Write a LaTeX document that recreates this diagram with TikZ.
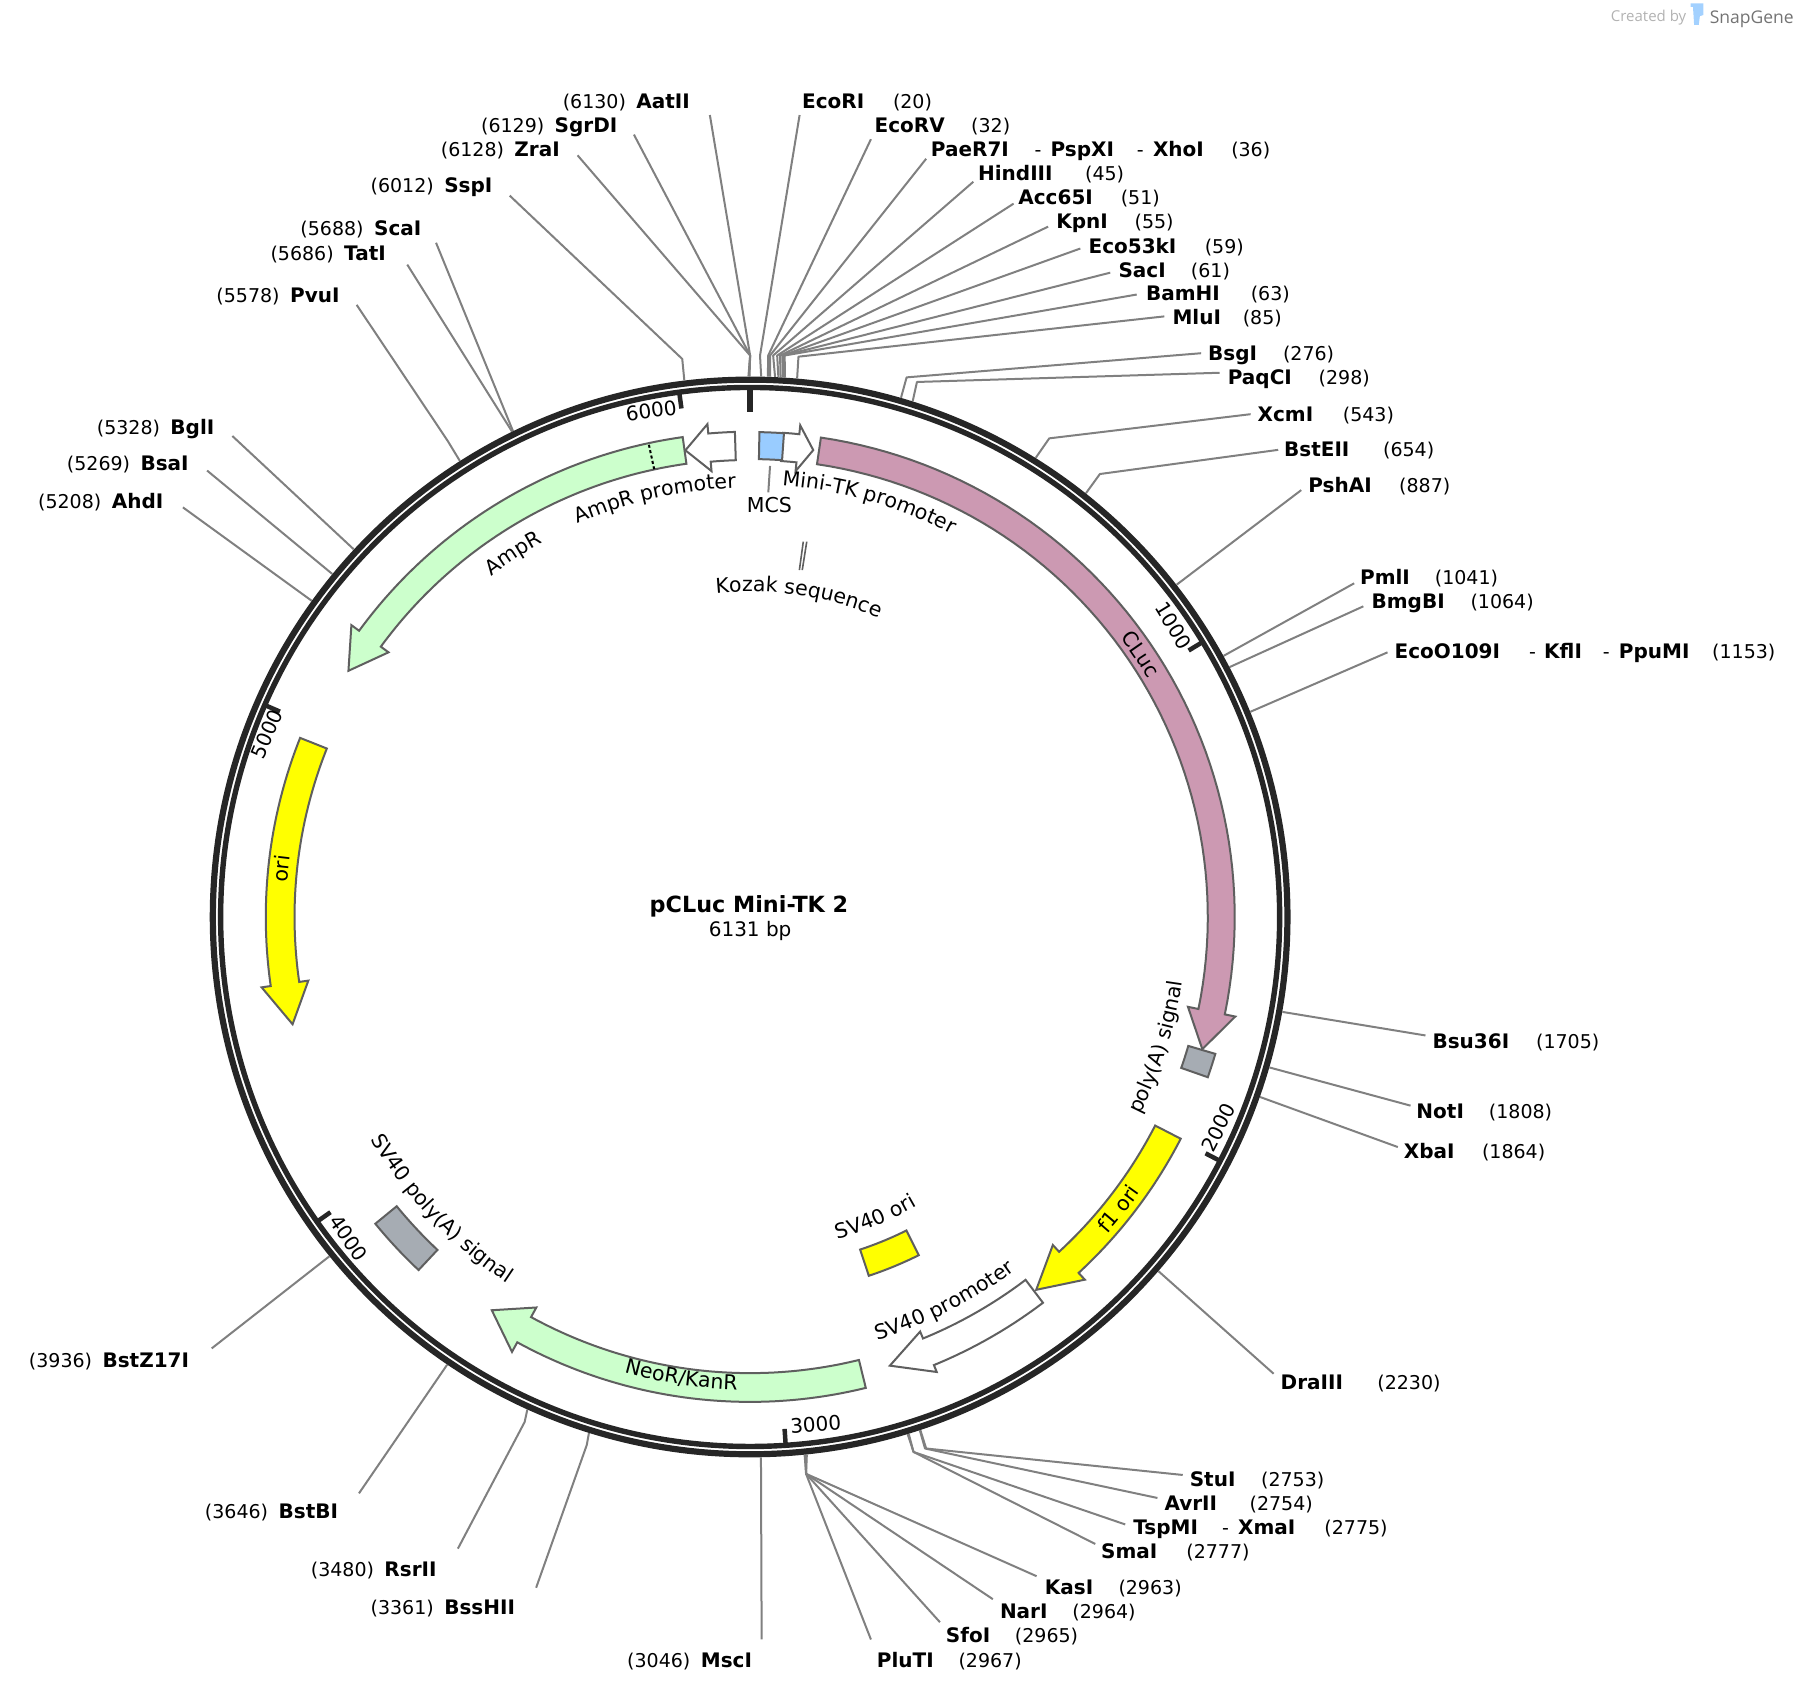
\documentclass[tikz,border=0pt]{standalone}
\usepackage{fontspec}
\setmainfont{DejaVu Sans}
\newfontfamily\logofont{Open Sans}
\usetikzlibrary{decorations.text}
\definecolor{ringc}{HTML}{262626}
\definecolor{linec}{HTML}{808080}
\definecolor{featline}{HTML}{5F5F5F}
\definecolor{cluc}{HTML}{CC99B2}
\definecolor{green}{HTML}{CCFFCC}
\definecolor{yel}{HTML}{FFFF00}
\definecolor{mcsblue}{HTML}{99CCFF}
\definecolor{polya}{HTML}{A6ACB3}
\newcommand{\labfont}{\fontsize{19}{23}\selectfont}
\newcommand{\featfont}{\fontsize{20.5}{24}\selectfont}
\newcommand{\nmfont}{\fontsize{20}{24}\selectfont\bfseries}
\tikzset{
  x=1.1505pt,y=-1.1505pt,
  enzb/.style={anchor=base west,inner sep=0pt,font=\nmfont,text=black},
  enzr/.style={anchor=base west,inner sep=0pt,font=\labfont,text=black},
  cutline/.style={draw=linec,line width=2pt,line join=round},
  feat/.style={draw=featline,line width=2pt,line join=miter},
  tickmark/.style={draw=ringc,line width=4.5pt},
  ticklab/.style={inner sep=0pt,font=\fontsize{20}{24}\selectfont,text=black},
  ringline/.style={draw=ringc},
}
% bold enzyme name: id, x, y, text
\newcommand{\bn}[4]{\node[enzb] (#1) at (#2,#3+6) {#4};}
% regular text: id, x, y, text
\newcommand{\rn}[4]{\node[enzr] (#1) at (#2,#3+6) {#4};}
% straight cut line: id, bp, label end
\newcommand{\cutA}[3]{%
  \begin{scope}[shift={(652,797)}]\coordinate (r-#1) at ({#2/6131*360-90}:470);\end{scope}
  \coordinate (l-#1) at (#3);
  \draw[cutline] (r-#1) -- (l-#1);}
% cut line with elbow: id, bp, elbow, label end
\newcommand{\cutB}[4]{%
  \begin{scope}[shift={(652,797)}]\coordinate (r-#1) at ({#2/6131*360-90}:470);\end{scope}
  \coordinate (e-#1) at (#3);
  \coordinate (l-#1) at (#4);
  \draw[cutline] (r-#1) -- (e-#1) -- (l-#1);}
% arrow feature: theta0, thetaShaftEnd, thetaTip, r, halfwidth, headhalf, fill
\newcommand{\featarrow}[7]{%
  \draw[feat,fill=#7] plot[domain=#1:#2,samples=60] ({\x-90}:{#4+#5})
    -- ({#2-90}:{#4+#6}) -- ({#3-90}:#4) -- ({#2-90}:{#4-#6})
    -- plot[domain=#2:#1,samples=60] ({\x-90}:{#4-#5}) -- cycle;}
% block feature: theta0, theta1, r0, r1, fill
\newcommand{\featrect}[5]{%
  \draw[feat,fill=#5] plot[domain=#1:#2,samples=12] ({\x-90}:#4)
    -- plot[domain=#2:#1,samples=12] ({\x-90}:#3) -- cycle;}
% curved label: text, theta start, theta end, radius
\newcommand{\arctext}[4]{%
  \path[decorate,decoration={text along path,text={|\featfont|#1},text align=center}]
    plot[domain=#2:#3,samples=70] ({\x-90}:#4);}
\newcommand{\ticklabel}[4]{\node[ticklab,rotate=#4] (tick#1) at (#2,#3) {#1};}
\begin{document}
\begin{tikzpicture}
\path[use as bounding box] (0,0) rectangle (1568.01,1470.66);

% logo
\node[anchor=base west,inner sep=0pt,text=black!30,font=\logofont\fontsize{15}{18}\selectfont] (created) at (1400,19) {Created by};
\fill[fill=mcsblue!90!white] (1469.5,3) -- (1480.6,3) -- (1480.6,13) -- (1477.5,14) -- (1476.5,21.7) -- (1472.5,21.7) -- (1471.5,6) -- (1469.5,6) -- cycle;
\node[anchor=base west,inner sep=0pt,text=black!55,font=\logofont\fontsize{17.5}{22}\selectfont] (snapgene) at (1486,20) {SnapGene};

% cut site connectors
\cutB{AatII}{6130}{652,309}{617,100}
\cutB{SgrDI}{6129}{652,309}{551,117}
\cutB{ZraI}{6128}{652,309}{502,135}
\cutB{SspI}{6012}{593,312}{443,170}
\cutA{ScaI}{5688}{379,211}
\cutA{TatI}{5686}{354,230}
\cutB{PvuI}{5578}{389,383}{310,265}
\cutA{BglI}{5328}{202,379}
\cutA{BsaI}{5269}{180,409}
\cutA{AhdI}{5208}{159,441}
\cutA{BstZ}{3936}{184,1172}
\cutA{BstBI}{3646}{312,1298}
\cutB{RsrII}{3480}{456,1236}{398,1346}
\cutB{BssHII}{3361}{510,1256}{466,1380}
\cutA{MscI}{3046}{662,1425}
\cutB{EcoRI}{20}{660.6,309}{695,100}
\cutB{EcoRV}{32}{667.7,309}{757,121}
\cutB{PaeR}{36}{669.3,309}{805,138}
\cutB{HindIII}{45}{672,309}{846,158}
\cutB{Acc}{51}{675.5,309}{881,177}
\cutB{KpnI}{55}{678,309}{911,197}
\cutB{Eco}{59}{680,309}{939,216}
\cutB{SacI}{61}{681,309}{965,237}
\cutB{BamHI}{63}{682,309}{988,256}
\cutB{MluI}{85}{694,310}{1012,275}
\cutB{BsgI}{276}{788,328}{1044,307}
\cutB{PaqCI}{298}{797,332}{1060,324}
\cutB{XcmI}{543}{912,381}{1087,360}
\cutB{BstEII}{654}{956,412}{1111,391}
\cutA{PshAI}{887}{1131,426}
\cutA{PmlI}{1041}{1177,507}
\cutA{BmgBI}{1064}{1185,527}
\cutA{EcoO}{1153}{1206,567}
\cutA{Bsu}{1705}{1239,900}
\cutA{NotI}{1808}{1226,961}
\cutA{XbaI}{1864}{1215,997}
\cutA{DraIII}{2230}{1107,1194}
\cutB{StuI}{2753}{805,1259}{1028,1282}
\cutB{AvrII}{2754}{804,1259}{1006,1302}
\cutB{TspMI}{2775}{794,1262}{978,1325}
\cutB{SmaI}{2777}{794,1262}{952,1342}
\cutB{KasI}{2963}{700.6,1281}{901,1370}
\cutB{NarI}{2964}{700.6,1281}{863,1390}
\cutB{SfoI}{2965}{700.6,1281}{817,1410}
\cutB{PluTI}{2967}{700.6,1281}{757,1425}

\begin{scope}[shift={(652,797)}]
% backbone
\draw[ringline,line width=6.2pt] (0,0) circle[radius=537.3pt];
\draw[ringline,line width=5.4pt] (0,0) circle[radius=529.5pt];
% ticks
\draw[draw=ringc,line width=6pt] (-90:459) -- (-90:439);
\foreach \t in {1000,2000,3000,4000,5000,6000}
  \draw[tickmark] ({\t/6131*360-90}:459) -- ({\t/6131*360-90}:446);

% features
\featarrow{8.4}{101.6}{106.3}{409.5}{11.7}{21}{cluc}
\featarrow{352}{306.2}{301.5}{409.5}{11.7}{20}{green}
\draw[line width=2pt,dash pattern=on 3pt off 2.5pt,draw=black] (347.9-90:398) -- (347.9-90:421);
\featarrow{358.2}{355.05}{352.1}{409.5}{12.3}{20.5}{white}
\featarrow{3.9}{5.82}{7.7}{409.5}{12.3}{20}{white}
\featrect{1.1}{4.0}{398}{421.5}{mcsblue}
\featarrow{291.7}{261.8}{256.8}{408.5}{12.5}{20.5}{yel}
\featrect{106.4}{109.3}{397}{421.5}{polya}
\featarrow{117.25}{137.3}{142.5}{408.5}{12.5}{20.5}{yel}
\featarrow{142.8}{157.7}{162.7}{408.5}{12.5}{19}{white}
\featrect{153.5}{161.7}{304.5}{328.5}{yel}
\featarrow{166.2}{208.7}{213.3}{409}{12.5}{22}{green}
\featrect{223.2}{230.7}{397}{421}{polya}

% feature labels
\arctext{AmpR promoter}{317.2}{377.2}{373}
\arctext{Mini-TK promoter}{-24}{56}{376}
\arctext{Kozak sequence}{-41.35}{58.65}{283}
\arctext{CLuc}{26.1}{86.1}{403}
\arctext{AmpR}{296.9}{356.9}{372}
\arctext{ori}{245.9}{305.9}{403}
\arctext{poly(A) signal}{147.7}{67.7}{380}
\arctext{f1 ori}{158.4}{98.4}{415}
\arctext{SV40 promoter}{193.2}{113.2}{384}
\arctext{SV40 ori}{197.4}{117.4}{290}
\arctext{NeoR/KanR}{218.5}{158.5}{411}
\arctext{SV40 poly(A) signal}{266.6}{186.6}{382}
\end{scope}

% MCS and Kozak pointers
\node[inner sep=0pt,font=\featfont] (mcs) at (668.7,439) {MCS};
\coordinate (mcs-a) at (669.3,405);
\coordinate (mcs-b) at (667.8,428);
\draw[draw=linec,line width=2pt] (mcs-a) -- (mcs-b);
\coordinate (koz-a) at (698.2,470.8);
\coordinate (koz-b) at (694.8,495.5);
\coordinate (koz-c) at (701.2,470.8);
\coordinate (koz-d) at (697.3,495.5);
\draw[draw=featline,line width=1.6pt] (koz-a) -- (koz-b);
\draw[draw=featline,line width=1.6pt] (koz-c) -- (koz-d);

% tick labels
\ticklabel{1000}{1020}{544}{-58.7}
\ticklabel{2000}{1059}{980}{62.6}
\ticklabel{3000}{709}{1238}{3.8}
\ticklabel{4000}{303}{1076}{-55}
\ticklabel{5000}{232}{638}{66.4}
\ticklabel{6000}{566}{357}{7.7}

% centre
\node[inner sep=0pt,font=\fontsize{22.3}{26}\selectfont\bfseries] (title) at (651,788) {pCLuc Mini-TK 2};
\node[inner sep=0pt,font=\fontsize{20}{24}\selectfont] (size) at (652,809) {6131 bp};

% enzyme labels, top right
\bn{n1}{697}{88}{EcoRI}\rn{p1}{776}{88}{(20)}
\bn{n2}{760}{109}{EcoRV}\rn{p2}{844}{109}{(32)}
\bn{n3}{809}{130}{PaeR7I}\rn{d3}{899}{130}{-}\bn{n3b}{913}{130}{PspXI}\rn{d3b}{988}{130}{-}\bn{n3c}{1002}{130}{XhoI}\rn{p3}{1070}{130}{(36)}
\bn{n4}{850}{151}{HindIII}\rn{p4}{943}{151}{(45)}
\bn{n5}{885}{172}{Acc65I}\rn{p5}{974}{172}{(51)}
\bn{n6}{918}{193}{KpnI}\rn{p6}{986}{193}{(55)}
\bn{n7}{946}{214}{Eco53kI}\rn{p7}{1047}{214}{(59)}
\bn{n8}{972}{235}{SacI}\rn{p8}{1035}{235}{(61)}
\bn{n9}{996}{255}{BamHI}\rn{p9}{1087}{255}{(63)}
\bn{n10}{1019}{276}{MluI}\rn{p10}{1080}{276}{(85)}
\bn{n11}{1050}{307}{BsgI}\rn{p11}{1115}{307}{(276)}
\bn{n12}{1067}{328}{PaqCI}\rn{p12}{1146}{328}{(298)}
\bn{n13}{1093}{360}{XcmI}\rn{p13}{1167}{360}{(543)}
\bn{n14}{1116}{391}{BstEII}\rn{p14}{1202}{391}{(654)}
\bn{n15}{1137}{422}{PshAI}\rn{p15}{1216}{422}{(887)}
\bn{n16}{1182}{502}{PmlI}\rn{p16}{1247}{502}{(1041)}
\bn{n17}{1192}{523}{BmgBI}\rn{p17}{1278}{523}{(1064)}
\bn{n18}{1212}{566}{EcoO109I}\rn{d18}{1329}{566}{-}\bn{n18b}{1342}{566}{KflI}\rn{d18b}{1393}{566}{-}\bn{n18c}{1407}{566}{PpuMI}\rn{p18}{1488}{566}{(1153)}
% right and bottom right
\bn{n19}{1245}{905}{Bsu36I}\rn{p19}{1335}{905}{(1705)}
\bn{n20}{1231}{966}{NotI}\rn{p20}{1294}{966}{(1808)}
\bn{n21}{1220}{1001}{XbaI}\rn{p21}{1288}{1001}{(1864)}
\bn{n22}{1113}{1202}{DraIII}\rn{p22}{1197}{1202}{(2230)}
\bn{n23}{1034}{1286}{StuI}\rn{p23}{1096}{1286}{(2753)}
\bn{n24}{1012}{1307}{AvrII}\rn{p24}{1086}{1307}{(2754)}
\bn{n25}{985}{1328}{TspMI}\rn{d25}{1062}{1328}{-}\bn{n25b}{1076}{1328}{XmaI}\rn{p25}{1151}{1328}{(2775)}
\bn{n26}{957}{1349}{SmaI}\rn{p26}{1031}{1349}{(2777)}
\bn{n27}{908}{1380}{KasI}\rn{p27}{972}{1380}{(2963)}
\bn{n28}{869}{1401}{NarI}\rn{p28}{932}{1401}{(2964)}
\bn{n29}{822}{1422}{SfoI}\rn{p29}{882}{1422}{(2965)}
\bn{n30}{762}{1443}{PluTI}\rn{p30}{833}{1443}{(2967)}
% bottom left
\rn{p31}{545}{1443}{(3046)}\bn{n31}{609}{1443}{MscI}
\rn{p32}{322}{1397}{(3361)}\bn{n32}{386}{1397}{BssHII}
\rn{p33}{270}{1364}{(3480)}\bn{n33}{334}{1364}{RsrII}
\rn{p34}{178}{1314}{(3646)}\bn{n34}{242}{1314}{BstBI}
\rn{p35}{25}{1183}{(3936)}\bn{n35}{89}{1183}{BstZ17I}
% left and top left
\rn{p36}{33}{436}{(5208)}\bn{n36}{97}{436}{AhdI}
\rn{p37}{58}{403}{(5269)}\bn{n37}{122}{403}{BsaI}
\rn{p38}{84}{372}{(5328)}\bn{n38}{148}{372}{BglI}
\rn{p39}{188}{257}{(5578)}\bn{n39}{252}{257}{PvuI}
\rn{p40}{235}{220}{(5686)}\bn{n40}{299}{220}{TatI}
\rn{p41}{261}{199}{(5688)}\bn{n41}{325}{199}{ScaI}
\rn{p42}{322}{161}{(6012)}\bn{n42}{386}{161}{SspI}
\rn{p43}{383}{130}{(6128)}\bn{n43}{447}{130}{ZraI}
\rn{p44}{418}{109}{(6129)}\bn{n44}{482}{109}{SgrDI}
\rn{p45}{489}{88}{(6130)}\bn{n45}{553}{88}{AatII}
\end{tikzpicture}
\end{document}
